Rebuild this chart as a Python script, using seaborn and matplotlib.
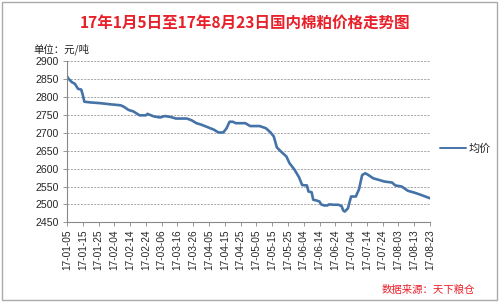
import matplotlib
matplotlib.use("Agg")
import matplotlib.pyplot as plt
import matplotlib.dates as mdates
from matplotlib.patches import Rectangle
import seaborn as sns
import pandas as pd

dates = ["01-05","01-06","01-08","01-10","01-12","01-14","01-15","01-16","01-18","01-20",
         "01-26","02-01","02-08","02-10","02-13","02-16","02-20","02-24","02-25","03-01",
         "03-05","03-08","03-12","03-15","03-22","03-25","03-28","03-31","04-04","04-08",
         "04-11","04-14","04-16","04-18","04-20","04-22","04-28","05-01","05-07","05-11",
         "05-14","05-16","05-18","05-21","05-24","05-26","05-29","06-01","06-03","06-06",
         "06-07","06-09","06-10","06-12","06-14","06-15","06-17","06-19","06-20","06-23",
         "06-26","06-28","06-29","06-30","07-02","07-04","07-07","07-09","07-11","07-13",
         "07-15","07-18","07-22","07-25","07-30","08-01","08-05","08-09","08-13","08-17",
         "08-23"]
prices = [2858,2851,2842,2837,2823,2821,2806,2787,2786,2785,
          2783,2780,2777,2773,2764,2760,2749,2749,2753,2746,
          2743,2747,2744,2740,2740,2735,2727,2723,2716,2709,
          2701,2701,2712,2731,2731,2727,2727,2719,2719,2713,
          2701,2690,2659,2646,2634,2615,2598,2576,2554,2553,
          2536,2534,2513,2511,2508,2500,2497,2497,2500,2499,
          2499,2495,2483,2480,2489,2522,2522,2542,2582,2587,
          2582,2573,2568,2564,2561,2553,2550,2538,2533,2527,
          2517]
series_name = "均价"
title = "17年1月5日至17年8月23日国内棉粕价格走势图"
unit_label = "单位：元/吨"
source = "数据来源：天下粮仓"
y_ticks = [2450, 2500, 2550, 2600, 2650, 2700, 2750, 2800, 2850, 2900]

df = pd.DataFrame({"date": pd.to_datetime(["2017-" + d for d in dates]), "price": prices})

sns.set_theme(style="white")
plt.rcParams['font.family'] = ['Liberation Sans', 'Noto Sans CJK SC', 'DejaVu Sans']

fig = plt.figure(figsize=(5.0, 3.02), dpi=100)
ax = fig.add_axes([0.134, 0.264, 0.726, 0.533])

sns.lineplot(data=df, x="date", y="price", ax=ax, color="#4572A7", linewidth=1.9,
             label=series_name)

start, end = df["date"].iloc[0], df["date"].iloc[-1]
ax.set_xlim(start, end)
ax.set_ylim(2450, 2900)
ax.set_yticks(y_ticks)
ax.set_xticks(pd.date_range(start, end, freq="10D"))
ax.xaxis.set_major_formatter(mdates.DateFormatter("%y-%m-%d"))
ax.tick_params(axis="x", rotation=90, labelsize=7.3, length=3, width=0.6,
               color="#888888", pad=2, bottom=True)
ax.tick_params(axis="y", labelsize=7.6, length=3, width=0.6, color="#888888",
               pad=3, left=True)
ax.set_xlabel("")
ax.set_ylabel("")
ax.grid(axis="y", linestyle=(0, (2.5, 1.5)), color="#999999", linewidth=0.6)
ax.grid(axis="x", visible=False)
for s in ["top", "right"]:
    ax.spines[s].set_visible(False)
for s in ["left", "bottom"]:
    ax.spines[s].set_color("#888888")
    ax.spines[s].set_linewidth(0.8)

leg = ax.legend(loc="center left", bbox_to_anchor=(1.0, 0.46), frameon=False,
                handlelength=2.3, handletextpad=0.3,
                prop={"family": ["Noto Sans CJK SC"], "size": 8})
for h in leg.get_lines():
    h.set_linewidth(1.4)

fig.text(0.49, 0.925, title, ha="center", va="center", color="#E8202A",
         fontsize=11.2, fontweight="bold", family=["Noto Sans CJK SC"])
fig.text(0.066, 0.838, unit_label, ha="left", va="center", color="#222222",
         fontsize=7.5, family=["Noto Sans CJK SC"])
fig.text(0.95, 0.04, source, ha="right", va="center", color="#E8202A",
         fontsize=7.5, style="italic", family=["Noto Sans CJK SC"])

fig.patches.append(Rectangle((0.004, 0.007), 0.99, 0.986, transform=fig.transFigure,
                             fill=False, edgecolor="#AAAAAA", linewidth=1.0))

fig.savefig("out.png", dpi=100, facecolor="white")
